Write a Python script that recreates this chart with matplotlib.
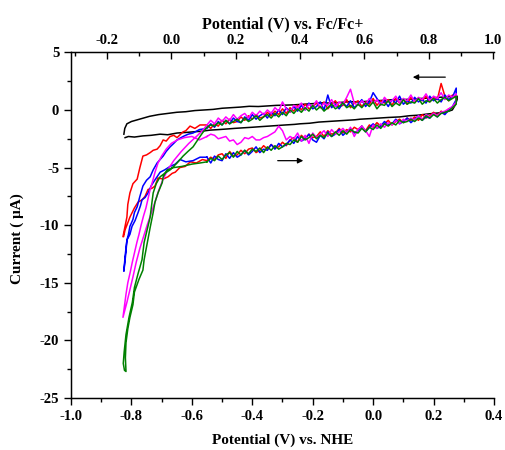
import matplotlib
matplotlib.use("Agg")
import matplotlib.pyplot as plt
from matplotlib.ticker import MultipleLocator

plt.rcParams['font.family'] = ['Liberation Serif', 'DejaVu Serif']
plt.rcParams['font.weight'] = 'bold'
plt.rcParams['axes.unicode_minus'] = False

# potentials (V vs NHE) of the flat part of the loops
x_band = [-0.55, -0.5375, -0.525, -0.5125, -0.5, -0.4875, -0.475, -0.4625, -0.45, -0.4375,
          -0.425, -0.4125, -0.4, -0.3875, -0.375, -0.3625, -0.35, -0.3375, -0.325, -0.3125,
          -0.3, -0.2875, -0.275, -0.2625, -0.25, -0.2375, -0.225, -0.2125, -0.2, -0.1875,
          -0.175, -0.1625, -0.15, -0.1375, -0.125, -0.1125, -0.1, -0.0875, -0.075, -0.0625,
          -0.05, -0.0375, -0.025, -0.0125, 0.0, 0.0125, 0.025, 0.0375, 0.05, 0.0625,
          0.075, 0.0875, 0.1, 0.1125, 0.125, 0.1375, 0.15, 0.1625, 0.175, 0.1875,
          0.2, 0.2125, 0.225, 0.2375, 0.25, 0.2625, 0.275]

# black (blank) loop
black_low_x = [-0.821, -0.81, -0.79, -0.762, -0.735, -0.705, -0.68, -0.649, -0.62, -0.596,
               -0.57, -0.54, -0.51, -0.484, -0.46, -0.431, -0.40, -0.374, -0.345, -0.318,
               -0.29, -0.26, -0.242, -0.21, -0.18, -0.15, -0.12, -0.09, -0.06, -0.043,
               -0.01, 0.02, 0.05, 0.089, 0.12, 0.15, 0.18, 0.198, 0.22, 0.245,
               0.262, 0.271, 0.278]
black_low_y = [-2.4, -2.3, -2.35, -2.25, -2.2, -2.1, -2.15, -2.0, -1.95, -1.9,
               -1.85, -1.75, -1.7, -1.65, -1.6, -1.55, -1.5, -1.45, -1.4, -1.35,
               -1.3, -1.25, -1.2, -1.15, -1.05, -1.0, -0.95, -0.9, -0.85, -0.8,
               -0.75, -0.7, -0.65, -0.6, -0.5, -0.45, -0.35, -0.3, -0.25, -0.15,
               0.0, 0.4, 0.9]
black_up_x = [0.278, 0.25, 0.22, 0.19, 0.16, 0.13, 0.1, 0.07, 0.04, 0.01,
              -0.02, -0.05, -0.08, -0.11, -0.14, -0.17, -0.2, -0.23, -0.26, -0.29,
              -0.32, -0.35, -0.38, -0.41, -0.44, -0.47, -0.5, -0.53, -0.56, -0.59,
              -0.62, -0.65, -0.68, -0.71, -0.74, -0.76, -0.78, -0.80, -0.815, -0.822,
              -0.825]
black_up_y = [1.2, 1.15, 1.1, 1.05, 1.0, 0.95, 0.9, 0.9, 0.85, 0.8,
              0.75, 0.7, 0.72, 0.65, 0.6, 0.62, 0.55, 0.5, 0.45, 0.42,
              0.4, 0.35, 0.3, 0.32, 0.25, 0.2, 0.15, 0.05, 0.0, -0.05,
              -0.15, -0.2, -0.3, -0.4, -0.55, -0.7, -0.85, -1.0, -1.2, -1.6,
              -2.1]

# red
red_up = [-1.3, -1.6, -1.2, -1.4, -0.9, -1.2, -0.8, -1.1, -1.0, -0.6,
          -0.9, -0.5, -0.8, -0.4, -0.7, -0.6, -0.2, -0.5, -0.1, -0.4,
          0.1, -0.3, 0.2, -0.1, 0.4, 0.0, 0.5, 0.1, 0.3, 0.6,
          0.2, 0.7, 0.1, 0.5, 0.8, 0.3, 0.4, 0.9, 0.2, 0.6,
          0.8, 0.3, 0.7, 0.5, 1.0, 0.4, 0.8, 0.6, 0.9, 0.4,
          1.0, 0.6, 0.9, 0.5, 1.1, 0.7, 1.0, 0.8, 1.2, 0.7,
          1.1, 0.9, 2.3, 1.2, 0.8, 1.3, 1.0]
red_low = [-4.4, -4.1, -4.3, -3.9, -3.8, -4.2, -3.6, -4.0, -3.9, -3.5,
           -3.8, -3.4, -3.3, -3.7, -3.5, -3.1, -3.4, -3.0, -3.3, -3.2,
           -2.8, -3.1, -2.6, -2.4, -2.8, -2.2, -2.5, -2.1, -2.4, -2.3,
           -1.9, -2.3, -1.8, -2.1, -2.0, -1.6, -2.0, -1.7, -1.9, -1.5,
           -1.7, -1.4, -1.8, -1.3, -1.5, -1.1, -1.4, -1.2, -0.9, -1.3,
           -1.0, -0.8, -1.1, -0.7, -0.9, -0.6, -0.9, -0.4, -0.7, -0.5,
           -0.2, -0.5, -0.1, -0.3, 0.1, 0.2, 0.6]
red_out_x = [-0.573, -0.59, -0.606, -0.62, -0.629, -0.649, -0.66, -0.672, -0.685, -0.695,
             -0.705, -0.715, -0.728, -0.738, -0.75, -0.762, -0.772, -0.781, -0.795, -0.805,
             -0.812, -0.815, -0.822, -0.828]
red_out_y = [-1.3, -1.6, -1.4, -1.8, -1.9, -2.4, -2.2, -2.3, -2.7, -2.6,
             -3.1, -3.4, -3.5, -3.7, -3.9, -4.0, -5.0, -6.0, -6.4, -7.2,
             -8.2, -9.3, -10.2, -11.0]
red_in_x = [-0.826, -0.821, -0.815, -0.805, -0.79, -0.778, -0.765, -0.755, -0.745, -0.732,
            -0.722, -0.712, -0.695, -0.679, -0.665, -0.655, -0.64, -0.622, -0.605, -0.585,
            -0.565]
red_in_y = [-11.0, -10.4, -10.0, -9.3, -8.5, -8.0, -7.8, -7.5, -6.9, -6.8,
            -6.6, -5.9, -6.0, -5.8, -5.5, -5.4, -5.0, -4.9, -4.5, -4.6,
            -4.3]

# blue
blue_up = [-1.6, -1.2, -1.5, -1.0, -1.3, -0.9, -1.2, -0.7, -1.0, -1.1,
           -0.6, -0.9, -0.4, -0.8, -0.5, -0.3, -0.7, -0.2, -0.5, 0.0,
           -0.4, 0.2, -0.2, 0.3, -0.1, 0.4, 0.0, 0.6, 0.1, 0.3,
           0.7, 0.0, 1.3, 0.2, 0.5, 0.1, 0.6, 0.3, 0.8, 0.2,
           0.5, 0.9, 0.3, 0.7, 1.5, 1.0, 0.5, 0.8, 0.3, 0.9,
           0.6, 1.2, 0.5, 0.8, 0.6, 1.1, 0.7, 0.9, 0.6, 1.2,
           0.8, 1.0, 0.7, 1.3, 0.9, 1.1, 1.9]
blue_low = [-4.1, -4.6, -4.0, -4.3, -4.4, -3.8, -4.2, -3.7, -4.1, -3.9,
            -3.5, -3.9, -3.6, -3.2, -3.7, -3.4, -3.5, -3.0, -3.4, -2.9,
            -3.2, -3.0, -2.6, -2.9, -2.3, -2.7, -2.5, -2.1, -2.6, -2.8,
            -2.2, -2.5, -1.9, -2.3, -2.1, -1.7, -2.2, -1.9, -1.6, -2.0,
            -1.8, -1.4, -1.9, -1.5, -1.2, -1.6, -1.4, -1.0, -1.3, -1.2,
            -0.8, -1.2, -1.0, -0.7, -1.1, -0.8, -0.5, -0.9, -0.6, -0.7,
            -0.3, -0.6, -0.2, -0.4, 0.0, 0.3, 0.9]
blue_out_x = [-0.575, -0.596, -0.612, -0.629, -0.649, -0.66, -0.672, -0.685, -0.695, -0.705,
              -0.715, -0.728, -0.738, -0.75, -0.762, -0.772, -0.781, -0.79, -0.795, -0.805,
              -0.81, -0.815, -0.821, -0.825]
blue_out_y = [-1.7, -2.0, -2.1, -2.3, -2.6, -2.9, -3.2, -3.6, -4.0, -4.3,
              -4.6, -5.2, -5.8, -6.1, -6.6, -7.5, -8.4, -8.9, -9.5, -10.1,
              -10.8, -11.3, -12.7, -14.0]
blue_in_x = [-0.825, -0.821, -0.818, -0.815, -0.805, -0.798, -0.788, -0.778, -0.77, -0.765,
             -0.755, -0.745, -0.735, -0.728, -0.715, -0.705, -0.69, -0.672, -0.655, -0.639,
             -0.62, -0.596, -0.573]
blue_in_y = [-14.0, -13.0, -12.3, -11.3, -10.8, -10.1, -9.6, -8.9, -8.3, -7.8,
             -7.6, -7.2, -6.6, -6.3, -5.8, -5.4, -5.2, -4.9, -4.7, -4.3,
             -4.5, -4.4, -4.1]

# magenta
mag_up = [-1.3, -0.9, -1.2, -0.7, -1.0, -0.6, -0.9, -0.4, -0.8, -0.5,
          -0.3, -0.7, -0.2, -0.5, -0.1, -0.4, 0.0, -0.3, 0.2, -0.1,
          0.7, 0.1, -0.2, 0.4, 0.2, 0.6, 0.0, 0.5, 0.3, 0.8,
          0.2, 0.6, 0.4, 0.9, 0.3, 0.7, 0.5, 1.1, 1.8, 0.6,
          0.4, 0.8, 0.5, 1.0, 0.6, 0.9, 0.4, 1.1, 0.7, 0.8,
          1.2, 0.6, 1.0, 0.8, 1.3, 0.7, 1.1, 0.9, 1.4, 0.8,
          1.2, 1.0, 1.5, 0.9, 1.3, 1.1, 1.4]
mag_low = [-2.3, -2.1, -2.2, -2.5, -2.4, -2.3, -2.7, -2.6, -3.0, -2.8,
           -2.4, -2.5, -2.3, -2.6, -2.6, -2.4, -2.3, -2.1, -1.9, -1.4,
           -1.8, -2.6, -2.3, -2.5, -2.0, -2.7, -2.2, -2.9, -2.0, -2.4,
           -2.1, -1.8, -2.3, -1.7, -2.1, -1.9, -1.6, -2.0, -1.5, -2.3,
           -1.7, -1.4, -1.8, -2.3, -1.3, -1.6, -1.2, -1.5, -1.1, -1.3,
           -0.9, -1.2, -0.8, -1.0, -0.7, -0.9, -0.5, -0.8, -0.4, -0.6,
           -0.3, -0.5, -0.2, -0.1, 0.1, 0.3, 0.7]
mag_out_x = [-0.565, -0.585, -0.61, -0.635, -0.66, -0.68, -0.695, -0.71, -0.722, -0.735,
             -0.748, -0.76, -0.772, -0.784, -0.795, -0.805, -0.815, -0.825, -0.828]
mag_out_y = [-1.8, -2.3, -2.9, -3.6, -4.4, -5.2, -6.0, -7.0, -8.0, -9.0,
             -10.0, -11.0, -12.0, -13.2, -14.5, -15.6, -16.7, -17.7, -18.0]
mag_in_x = [-0.828, -0.823, -0.818, -0.812, -0.805, -0.797, -0.79, -0.782, -0.775, -0.768,
            -0.76, -0.752, -0.745, -0.738, -0.73, -0.722, -0.712, -0.70, -0.685, -0.668,
            -0.648, -0.625, -0.6, -0.575]
mag_in_y = [-18.0, -17.0, -16.0, -15.0, -14.2, -13.2, -12.4, -11.5, -10.8, -10.0,
            -9.2, -8.5, -7.7, -6.9, -6.2, -5.4, -4.6, -4.0, -3.4, -2.9,
            -2.6, -2.4, -2.3, -2.6]

# green
green_up = [-1.5, -1.3, -1.4, -1.1, -1.3, -0.9, -1.2, -1.0, -0.8, -1.1,
            -0.7, -1.0, -0.8, -0.5, -0.9, -0.6, -0.4, -0.7, -0.3, -0.6,
            -0.2, -0.5, 0.0, -0.3, 0.1, -0.2, 0.2, -0.1, 0.4, 0.0,
            0.3, -0.1, 0.2, 0.5, 0.1, 0.3, 0.6, 0.2, 0.4, 0.1,
            0.5, 0.2, 0.6, 0.3, 0.7, 0.1, 0.5, 0.4, 0.8, 0.3,
            0.6, 0.4, 0.9, 0.5, 0.7, 0.6, 1.0, 0.5, 0.8, 0.7,
            1.0, 0.6, 0.9, 1.1, 0.8, 1.0, 1.2]
green_low = [-4.5, -4.2, -4.4, -4.0, -4.3, -3.9, -3.7, -4.1, -3.6, -3.9,
             -3.5, -3.8, -3.4, -3.6, -3.3, -3.7, -3.2, -3.5, -3.1, -3.4,
             -3.2, -2.9, -3.0, -2.6, -2.8, -2.3, -2.6, -2.4, -2.1, -2.5,
             -2.2, -2.4, -2.0, -2.3, -1.9, -2.2, -1.8, -2.1, -1.7, -1.9,
             -2.0, -1.6, -1.9, -1.5, -1.7, -1.3, -1.6, -1.2, -1.4, -1.1,
             -1.3, -0.9, -1.1, -1.0, -0.8, -1.0, -0.7, -0.9, -0.5, -0.7,
             -0.4, -0.6, -0.3, -0.2, -0.1, 0.2, 0.5]
green_out_x = [-0.565, -0.573, -0.596, -0.613, -0.629, -0.649, -0.672, -0.69, -0.705, -0.718,
               -0.728, -0.732, -0.738, -0.748, -0.758, -0.765, -0.778, -0.79, -0.797, -0.808,
               -0.818, -0.824, -0.827, -0.823]
green_out_y = [-2.0, -2.3, -3.2, -3.6, -4.0, -4.6, -5.2, -5.5, -5.8, -6.4,
               -7.2, -8.0, -9.3, -10.4, -11.5, -13.0, -14.2, -15.4, -16.7, -18.0,
               -19.5, -21.0, -22.0, -22.6]
green_in_x = [-0.818, -0.82, -0.818, -0.812, -0.805, -0.795, -0.79, -0.775, -0.762, -0.758,
              -0.748, -0.738, -0.728, -0.722, -0.712, -0.698, -0.695, -0.682, -0.66, -0.633,
              -0.6, -0.573]
green_in_y = [-22.7, -21.5, -20.2, -19.0, -18.0, -16.9, -15.8, -14.7, -13.9, -13.0,
              -11.6, -10.2, -8.9, -8.0, -7.2, -6.3, -5.8, -5.2, -5.0, -4.9,
              -4.7, -4.6]

loops = [
    (red_low, red_up, red_out_x, red_out_y, red_in_x, red_in_y, '#ff0000'),
    (blue_low, blue_up, blue_out_x, blue_out_y, blue_in_x, blue_in_y, '#0000ff'),
    (mag_low, mag_up, mag_out_x, mag_out_y, mag_in_x, mag_in_y, '#ff00ff'),
    (green_low, green_up, green_out_x, green_out_y, green_in_x, green_in_y, '#008000'),
]

fig = plt.figure(figsize=(5.05, 4.5), dpi=100)
ax = fig.add_axes([0.1406, 0.1156, 0.8376, 0.7680])

ax.plot(black_low_x + black_up_x, black_low_y + black_up_y, color='black', lw=1.1)
for low, up, ox, oy, ix, iy, col in loops:
    px = x_band + x_band[::-1] + ox + ix + [x_band[0]]
    py = low + up[::-1] + oy + iy + [low[0]]
    ax.plot(px, py, color=col, lw=1.1)

# sweep direction arrows
ax.annotate('', xy=(0.122, 2.85), xytext=(0.248, 2.85),
            arrowprops=dict(arrowstyle='-|>', color='black', lw=0.9, mutation_scale=8))
ax.annotate('', xy=(-0.222, -4.4), xytext=(-0.325, -4.4),
            arrowprops=dict(arrowstyle='-|>', color='black', lw=0.9, mutation_scale=8))

ax.set_xlim(-1.0, 0.4)
ax.set_ylim(-25, 5)
ax.xaxis.set_major_locator(MultipleLocator(0.2))
ax.xaxis.set_minor_locator(MultipleLocator(0.1))
ax.yaxis.set_major_locator(MultipleLocator(5))
ax.yaxis.set_minor_locator(MultipleLocator(2.5))
ax.xaxis.set_major_formatter(plt.FuncFormatter(lambda v, p: f"{v:.1f}"))
ax.tick_params(direction='out', which='major', length=5, width=1, labelsize=10.5)
ax.tick_params(direction='out', which='minor', length=3, width=1)
ax.spines['right'].set_visible(False)
for s in ['left', 'bottom', 'top']:
    ax.spines[s].set_linewidth(1.0)
ax.set_xlabel('Potential (V) vs. NHE', fontsize=11, fontweight='bold', labelpad=8)
ax.set_ylabel('Current ( \u03bcA)', fontsize=11, fontweight='bold')
ax.yaxis.set_label_coords(-0.11, 0.46)

top = ax.twiny()
top.set_xlim(-0.312, 1.003)
top.xaxis.set_major_locator(MultipleLocator(0.2))
top.xaxis.set_minor_locator(MultipleLocator(0.1))
top.xaxis.set_major_formatter(plt.FuncFormatter(lambda v, p: f"{v:.1f}"))
top.tick_params(direction='in', which='major', length=5, width=1, labelsize=10.5, pad=4)
top.tick_params(direction='in', which='minor', length=3, width=1)
top.spines['right'].set_visible(False)
top.set_xlabel('Potential (V) vs. Fc/Fc+', fontsize=11.5, fontweight='bold', labelpad=4)

fig.savefig('out.png', dpi=100)
